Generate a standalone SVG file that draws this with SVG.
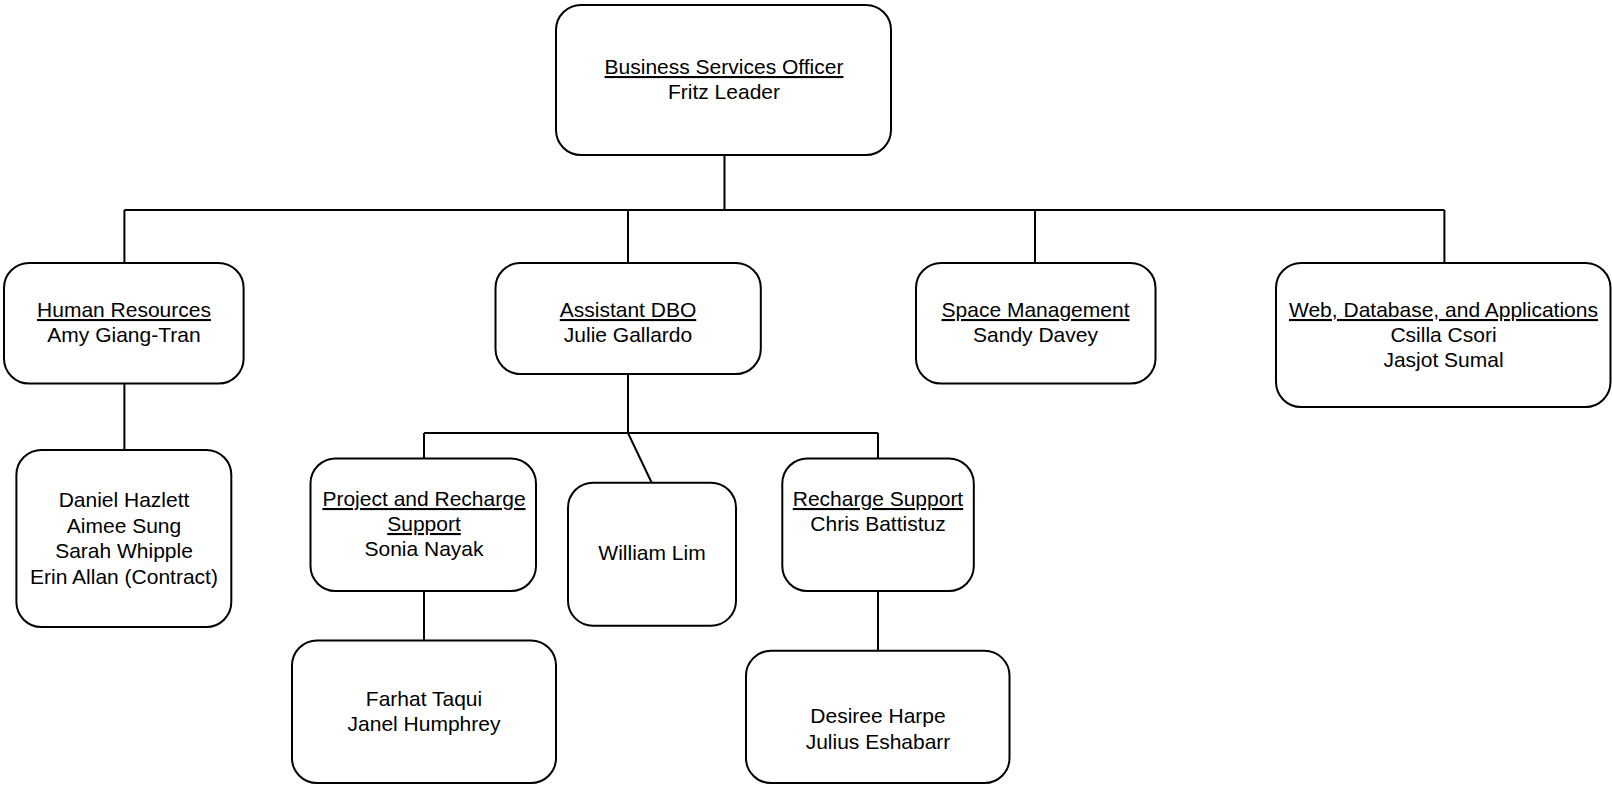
<svg xmlns="http://www.w3.org/2000/svg" width="1612" height="785" viewBox="0 0 1612 785">
<style>
.box{fill:#fff;stroke:#000;stroke-width:2}
.ln{fill:none;stroke:#000;stroke-width:2}
text{font-family:"Liberation Sans",Arial,sans-serif;font-size:21px;fill:#000;text-anchor:middle}
.u{text-decoration:underline}
</style>
<rect width="1612" height="785" fill="#fff"/>
<g id="connectors">
<path class="ln" d="M724.5 155V210M124.4 210H1444.4M124.4 210V263M628 210V263M1035 210V263M1444.4 210V263"/>
<path class="ln" d="M124.4 383.5V450"/>
<path class="ln" d="M628 374V433M424 433H878M424 433V458.5M878 433V458.5M628 433L651.7 482.7"/>
<path class="ln" d="M424 591V640.5M878 591V650.8"/>
</g>
<g id="n-bso"><rect class="box" x="556" y="5" width="335" height="150" rx="25"/><text x="724" y="74" class="u">Business Services Officer</text><text x="724" y="99">Fritz Leader</text></g>
<g id="n-hr"><rect class="box" x="4" y="263" width="239.6" height="120.5" rx="25"/><text x="124" y="317" class="u">Human Resources</text><text x="124" y="342">Amy Giang-Tran</text></g>
<g id="n-adbo"><rect class="box" x="495.5" y="263" width="265.3" height="111" rx="25"/><text x="628" y="317" class="u">Assistant DBO</text><text x="628" y="342">Julie Gallardo</text></g>
<g id="n-space"><rect class="box" x="916" y="263" width="239.5" height="120.5" rx="25"/><text x="1035.5" y="317" class="u">Space Management</text><text x="1035.5" y="342">Sandy Davey</text></g>
<g id="n-web"><rect class="box" x="1276" y="263" width="334.5" height="144" rx="25"/><text x="1443.5" y="317" class="u">Web, Database, and Applications</text><text x="1443.5" y="342">Csilla Csori</text><text x="1443.5" y="367">Jasjot Sumal</text></g>
<g id="n-hrstaff"><rect class="box" x="16.4" y="450" width="214.9" height="177" rx="25"/><text x="124" y="507">Daniel Hazlett</text><text x="124" y="533">Aimee Sung</text><text x="124" y="558">Sarah Whipple</text><text x="124" y="584">Erin Allan (Contract)</text></g>
<g id="n-project"><rect class="box" x="310.5" y="458.5" width="225.5" height="132.5" rx="25"/><text x="424" y="506" class="u">Project and Recharge</text><text x="424" y="531" class="u">Support</text><text x="424" y="556">Sonia Nayak</text></g>
<g id="n-william"><rect class="box" x="568" y="482.7" width="168" height="143" rx="25"/><text x="652" y="560">William Lim</text></g>
<g id="n-recharge"><rect class="box" x="782.3" y="458.5" width="191.5" height="132.5" rx="25"/><text x="878" y="506" class="u">Recharge Support</text><text x="878" y="531">Chris Battistuz</text></g>
<g id="n-projstaff"><rect class="box" x="292" y="640.5" width="264" height="142.5" rx="25"/><text x="424" y="706">Farhat Taqui</text><text x="424" y="731">Janel Humphrey</text></g>
<g id="n-rechstaff"><rect class="box" x="746" y="650.8" width="263.5" height="132.2" rx="25"/><text x="878" y="723">Desiree Harpe</text><text x="878" y="749">Julius Eshabarr</text></g>
</svg>
